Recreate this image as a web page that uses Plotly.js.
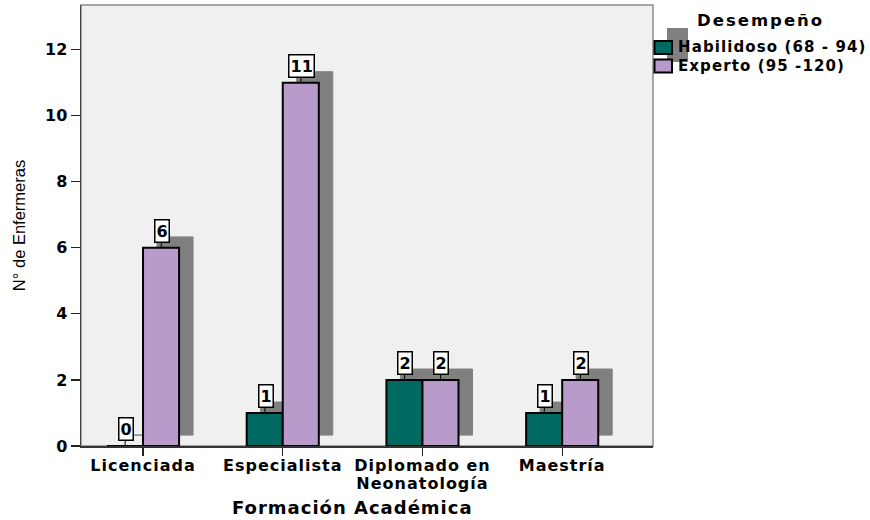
<!DOCTYPE html>
<html>
<head>
<meta charset="utf-8">
<script src="https://cdn.plot.ly/plotly-3.0.1.min.js"></script>
<style>
  html, body { margin: 0; padding: 0; background: #ffffff; }
  #chart { width: 870px; height: 520px; }
  .xtick text { letter-spacing: 1px; }
</style>
</head>
<body>
<div id="chart"></div>
<script>
// Nurses by academic background and performance level
const categories = ['Licenciada', 'Especialista', 'Diplomado en<br>Neonatología', 'Maestría'];
const habilidoso = [0, 1, 2, 1];
const experto = [6, 11, 2, 2];
const seriesNames = ['Habilidoso (68 - 94)', 'Experto (95 -120)'];
const legendTitle = 'Desempeño';
const xTitle = 'Formación Académica';
const yTitle = 'N° de Enfermeras';
const yTicks = [0, 2, 4, 6, 8, 10, 12];

// styling
const TEAL = '#006a61';
const PURPLE = '#b99bcb';
const SHADOW = '#808080';
const BOLD = 'DejaVu Sans, Verdana, sans-serif';
const BAR_W = 0.258;          // width of each bar in category units
const SH_DX = 0.1;            // drop-shadow shift to the right (category units)
const SH_DY = 0.33;           // drop-shadow lift (value units)

// plot-area frame in pixels, used to place the hand-made legend
const M = { l: 81, r: 217, t: 5, b: 74 };
const W = 870, H = 520;
const L = M.l, R = W - M.r, T = M.t, B = H - M.b;
const px = p => (p - L) / (R - L);
const py = p => (B - p) / (B - T);

const idx = categories.map((_, i) => i);

function shadowTrace(vals, offset) {
  return {
    type: 'bar', x: idx, y: vals, base: vals.map(() => SH_DY),
    width: BAR_W, offset: offset + SH_DX,
    marker: { color: SHADOW, line: { color: SHADOW, width: 1 } },
    showlegend: false, hoverinfo: 'skip'
  };
}
function barTrace(vals, offset, color, name) {
  return {
    type: 'bar', name: name, x: idx, y: vals,
    width: BAR_W, offset: offset,
    marker: { color: color, line: { color: '#000000', width: 2 } },
    showlegend: false
  };
}

const traces = [
  shadowTrace(habilidoso, -BAR_W),
  shadowTrace(experto, 0),
  barTrace(habilidoso, -BAR_W, TEAL, seriesNames[0]),
  barTrace(experto, 0, PURPLE, seriesNames[1])
];

// value boxes above each bar
const annotations = [];
function valueLabels(vals, center) {
  vals.forEach((v, i) => {
    annotations.push({
      x: i + center, y: v, xref: 'x', yref: 'y',
      text: String(v), showarrow: true, arrowhead: 0, arrowwidth: 1,
      arrowcolor: '#000000', ax: 1, ay: -17,
      bgcolor: '#ffffff', bordercolor: '#000000', borderwidth: 1.5, borderpad: 1,
      font: { family: BOLD, size: 16, color: '#000000', weight: 'bold' }
    });
  });
}
valueLabels(habilidoso, -BAR_W / 2);
valueLabels(experto, BAR_W / 2);

// x-axis title, centred under the category span
annotations.push({
  xref: 'paper', yref: 'paper', x: px(352.5), y: py(507),
  xanchor: 'center', yanchor: 'middle', showarrow: false,
  text: '<span style="letter-spacing:1px">' + xTitle + '</span>',
  font: { family: BOLD, size: 18, color: '#000000', weight: 'bold' }
});

// legend
annotations.push({
  xref: 'paper', yref: 'paper', x: px(760), y: py(21),
  xanchor: 'center', yanchor: 'middle', showarrow: false,
  text: '<span style="letter-spacing:2px">' + legendTitle + '</span>',
  font: { family: BOLD, size: 16.5, color: '#000000', weight: 'bold' }
});
const legendRows = [47, 66];
seriesNames.forEach((n, k) => {
  annotations.push({
    xref: 'paper', yref: 'paper', x: px(676), y: py(legendRows[k]),
    xanchor: 'left', yanchor: 'middle', showarrow: false,
    text: '<span style="letter-spacing:1.1px">' + n + '</span>',
    font: { family: BOLD, size: 15, color: '#000000', weight: 'bold' }
  });
});

const shapes = [
  // grey frame around the plotting area
  { type: 'rect', xref: 'paper', yref: 'paper', x0: 0, x1: 1, y0: 0, y1: 1,
    line: { color: '#8a8a8a', width: 1.5 }, fillcolor: 'rgba(0,0,0,0)', layer: 'below' },
  // legend drop shadow and swatches
  { type: 'rect', xref: 'paper', yref: 'paper', x0: px(667), x1: px(688), y0: py(62), y1: py(28),
    line: { width: 0 }, fillcolor: SHADOW },
  { type: 'rect', xref: 'paper', yref: 'paper', x0: px(654.5), x1: px(672), y0: py(54), y1: py(41),
    line: { color: '#000000', width: 2 }, fillcolor: TEAL },
  { type: 'rect', xref: 'paper', yref: 'paper', x0: px(654.5), x1: px(672), y0: py(72.5), y1: py(59.5),
    line: { color: '#000000', width: 2 }, fillcolor: PURPLE }
];

const layout = {
  width: W, height: H,
  margin: M,
  paper_bgcolor: '#ffffff',
  plot_bgcolor: '#f0f0f0',
  barmode: 'overlay',
  showlegend: false,
  hovermode: false,
  xaxis: {
    type: 'category',
    tickvals: idx, ticktext: categories,
    range: [-0.444, 3.65],
    showgrid: false, zeroline: false,
    showline: true, linecolor: '#333333', linewidth: 1.5,
    ticks: 'outside', ticklen: 8, tickcolor: '#222222', tickwidth: 1.2,
    ticklabelstandoff: -4,
    tickfont: { family: BOLD, size: 16, color: '#000000', weight: 'bold' }
  },
  yaxis: {
    range: [0, 13.35],
    tickvals: yTicks,
    showgrid: false, zeroline: false,
    showline: true, linecolor: '#444444', linewidth: 1.5,
    ticks: 'outside', ticklen: 9, tickcolor: '#222222', tickwidth: 1.2,
    tickfont: { family: BOLD, size: 16, color: '#000000', weight: 'bold' },
    title: { text: yTitle, standoff: 15,
             font: { family: 'Liberation Sans, Arial, sans-serif', size: 16.5, color: '#000000' } }
  },
  annotations: annotations,
  shapes: shapes
};

Plotly.newPlot('chart', traces, layout, { staticPlot: true, displayModeBar: false }).then(gd => {
  // slightly tighter line spacing for the two-line category label
  gd.querySelectorAll('.xtick text tspan.line').forEach(t => {
    const dy = parseFloat(t.getAttribute('dy'));
    if (dy) t.setAttribute('dy', (dy * 0.9) + 'em');
  });
});
</script>
</body>
</html>
